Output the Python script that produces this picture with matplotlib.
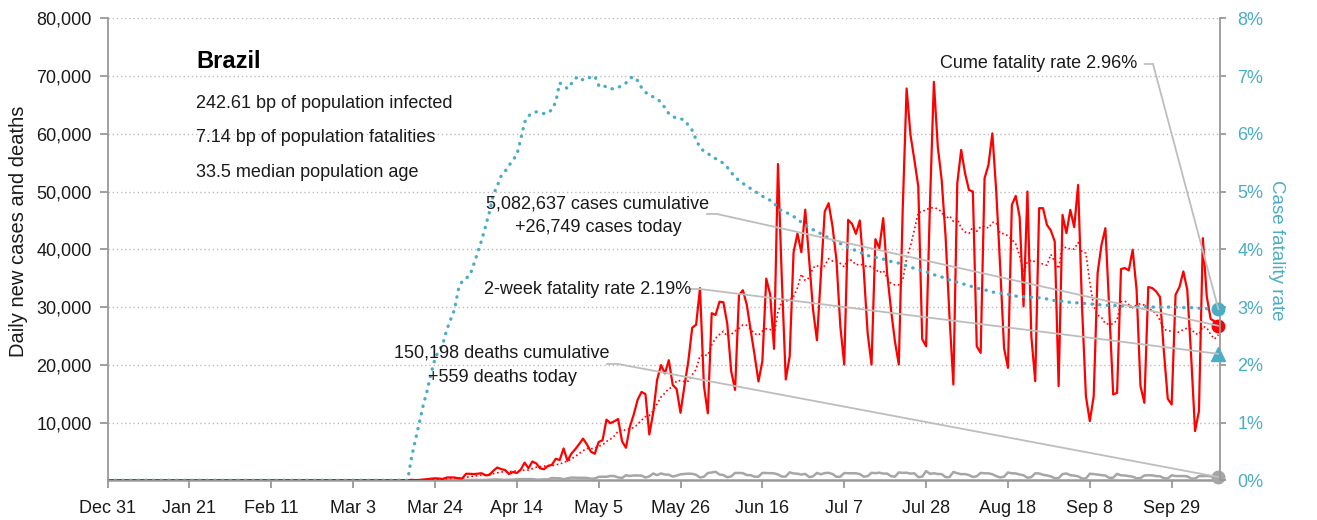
import matplotlib
matplotlib.use("Agg")
import matplotlib.pyplot as plt
import matplotlib.dates as mdates
from matplotlib import font_manager
from matplotlib.patches import ConnectionPatch
from matplotlib.lines import Line2D
import pandas as pd

# ---------------- data ----------------
START = "2019-12-31"

# daily new cases, one value per day from Dec 31
new_cases = [
    0, 0, 0, 0, 0, 0, 0, 0, 0, 0, 0, 0, 0, 0, 0, 0, 0, 0, 0, 0,
    0, 0, 0, 0, 0, 0, 0, 0, 0, 0, 0, 0, 0, 0, 0, 0, 0, 0, 0, 0,
    0, 0, 0, 0, 0, 0, 0, 0, 0, 0, 0, 0, 0, 0, 0, 0, 0, 0,
    1, 0, 0, 1, 0, 0, 0,
    1, 5, 5, 6, 0, 6, 0,
    0, 9, 18, 25, 21, 23, 79,
    34, 57, 137, 193, 283, 345, 310,
    232, 482, 502, 487, 352, 323, 1138,
    1119, 1074, 1146, 1222, 852, 926, 1661,
    2210, 1930, 1781, 1089, 1442, 1261, 1832,
    3058, 2105, 3257, 2917, 2055, 1927, 2498,
    2678, 3735, 3503, 5514, 3379, 4613, 5385,
    6276, 7218, 6209, 4970, 4588, 6633, 6935,
    10503, 9888, 10222, 10611, 6760, 5632, 9258,
    11385, 13944, 15305, 14919, 7938, 11700, 17408,
    19951, 18508, 20803, 16508, 15813, 11687, 16324,
    20599, 26417, 26928, 33274, 16409, 11598, 28936,
    28633, 30925, 30830, 27075, 18912, 15654, 32091,
    32913, 30412, 25982, 21704, 17110, 20647, 34918,
    32188, 22765, 54771, 34666, 17459, 21432, 39436,
    42725, 39483, 46860, 38190, 29550, 24250, 35310,
    46540, 47980, 43950, 38190, 26670, 20040, 45100,
    44410, 42680, 44990, 36460, 25520, 20040, 41760,
    40200, 45390, 35880, 29550, 24080, 20040, 46830,
    67850, 59790, 55470, 50860, 24480, 23210, 47980,
    69000, 57770, 52010, 42220, 28400, 16590, 51440,
    57200, 53160, 50280, 50000, 23210, 22060, 52300,
    54600, 60080, 50000, 37040, 22920, 19470, 47690,
    49250, 45560, 30120, 50000, 24940, 17160, 47120,
    47120, 44240, 43260, 41360, 16300, 45960, 42800,
    46830, 43830, 51150, 30120, 14570, 10250, 14570,
    35880, 40780, 43660, 29550, 14860, 15150, 36580,
    36750, 36350, 39920, 33000, 16300, 13420, 33470,
    33290, 32720, 31740, 22350, 14110, 13130, 32140,
    33470, 36170, 33000, 21480, 8525, 11980, 41930,
    31850, 27940, 27530, 26749,
]

# daily new deaths, one value per day from Dec 31
new_deaths = [
    0, 0, 0, 0, 0, 0, 0, 0, 0, 0, 0, 0, 0, 0, 0, 0, 0, 0, 0, 0,
    0, 0, 0, 0, 0, 0, 0, 0, 0, 0, 0, 0, 0, 0, 0, 0, 0, 0, 0, 0,
    0, 0, 0, 0, 0, 0, 0, 0, 0, 0, 0, 0, 0, 0, 0, 0, 0, 0, 0, 0,
    0, 0, 0, 0, 0, 0, 0, 0, 0, 0, 0, 0, 0, 0, 0, 0, 0, 0,
    1, 2, 3, 5, 7, 9, 12,
    11, 12, 13, 20, 22, 23, 42,
    40, 58, 60, 73, 54, 67, 114,
    133, 141, 115, 68, 99, 105, 204,
    204, 188, 217, 206, 115, 113, 166,
    165, 407, 357, 346, 189, 338, 474,
    449, 435, 428, 421, 275, 296, 600,
    615, 610, 751, 730, 496, 396, 881,
    749, 844, 824, 816, 485, 674, 1179,
    888, 1188, 1001, 965, 653, 807, 1039,
    1086, 1156, 1124, 956, 480, 623, 1262,
    1349, 1473, 1005, 904, 525, 679, 1272,
    1274, 1239, 909, 892, 612, 627, 1282,
    1269, 1238, 1206, 1022, 641, 654, 1374,
    1185, 1141, 990, 1109, 552, 692, 1280,
    1038, 1252, 1290, 1091, 602, 620, 1254,
    1223, 1220, 1214, 1071, 631, 716, 1300,
    1233, 1322, 1163, 1163, 716, 632, 1367,
    1284, 1311, 1156, 1211, 555, 632, 1595,
    1129, 1212, 1088, 1079, 541, 561, 1437,
    1226, 1060, 1079, 905, 572, 703, 1274,
    1212, 1204, 1060, 709, 494, 620, 1352,
    1215, 1189, 1004, 874, 441, 553, 1215,
    1184, 955, 834, 682, 366, 386, 1075,
    1184, 888, 814, 682, 315, 310, 1136,
    1075, 983, 874, 815, 415, 455, 1113,
    869, 831, 739, 629, 335, 381, 836,
    869, 858, 729, 708, 363, 317, 863,
    733, 732, 728, 690, 307, 309, 734,
    729, 754, 703, 620, 559,
]

# cumulative case fatality rate (%), one value per day from Dec 31
cfr_pct = [
    0, 0, 0, 0, 0, 0, 0, 0, 0, 0, 0, 0, 0, 0, 0, 0, 0, 0, 0, 0,
    0, 0, 0, 0, 0, 0, 0, 0, 0, 0, 0, 0, 0, 0, 0, 0, 0, 0, 0, 0,
    0, 0, 0, 0, 0, 0, 0, 0, 0, 0, 0, 0, 0, 0, 0, 0, 0, 0, 0, 0,
    0, 0, 0, 0, 0, 0, 0, 0, 0, 0, 0, 0, 0, 0, 0, 0, 0, 0,
    0.40, 0.70, 1.00, 1.30, 1.55, 1.85, 2.10,
    2.25, 2.35, 2.60, 2.78, 2.95, 3.30, 3.45,
    3.50, 3.55, 3.75, 3.95, 4.16, 4.40, 4.65,
    4.95, 5.10, 5.27, 5.35, 5.45, 5.55, 5.63,
    5.90, 6.20, 6.31, 6.36, 6.38, 6.36, 6.35,
    6.36, 6.42, 6.55, 6.88, 6.84, 6.78, 6.87,
    6.96, 6.99, 6.93, 6.96, 6.98, 7.00, 6.84,
    6.86, 6.80, 6.78, 6.78, 6.80, 6.84, 6.88,
    6.96, 6.99, 6.92, 6.80, 6.72, 6.67, 6.64,
    6.60, 6.55, 6.45, 6.35, 6.30, 6.27, 6.26,
    6.24, 6.15, 6.06, 5.90, 5.76, 5.70, 5.66,
    5.61, 5.57, 5.53, 5.49, 5.42, 5.33, 5.25,
    5.19, 5.14, 5.10, 5.05, 5.01, 4.96, 4.92,
    4.88, 4.85, 4.81, 4.70, 4.67, 4.64, 4.61,
    4.57, 4.52, 4.47, 4.42, 4.38, 4.34, 4.31,
    4.27, 4.23, 4.20, 4.16, 4.13, 4.10, 4.07,
    4.03, 4.00, 3.98, 3.95, 3.92, 3.89, 3.88,
    3.86, 3.85, 3.83, 3.81, 3.79, 3.78, 3.76,
    3.74, 3.71, 3.69, 3.67, 3.65, 3.63, 3.61,
    3.59, 3.56, 3.54, 3.52, 3.50, 3.47, 3.45,
    3.43, 3.41, 3.39, 3.37, 3.35, 3.33, 3.31,
    3.30, 3.28, 3.26, 3.25, 3.24, 3.23, 3.22,
    3.21, 3.19, 3.18, 3.18, 3.17, 3.17, 3.16,
    3.16, 3.15, 3.14, 3.13, 3.11, 3.10, 3.10,
    3.09, 3.08, 3.08, 3.07, 3.07, 3.06, 3.05,
    3.05, 3.04, 3.04, 3.03, 3.03, 3.03, 3.02,
    3.02, 3.02, 3.01, 3.01, 3.01, 3.01, 3.01,
    3.00, 3.00, 3.00, 3.00, 3.00, 3.00, 3.00,
    3.00, 3.00, 2.99, 2.99, 2.99, 2.98, 2.98,
    2.98, 2.97, 2.97, 2.97, 2.96,
]

tick_labels = ["Dec 31", "Jan 21", "Feb 11", "Mar 3", "Mar 24", "Apr 14", "May 5",
               "May 26", "Jun 16", "Jul 7", "Jul 28", "Aug 18", "Sep 8", "Sep 29"]
left_ticks = [10000, 20000, 30000, 40000, 50000, 60000, 70000, 80000]
right_ticks = [0, 1, 2, 3, 4, 5, 6, 7, 8]

country = "Brazil"
info_lines = ["242.61 bp of population infected",
              "7.14 bp of population fatalities",
              "33.5 median population age"]
cases_cumulative = 5082637
deaths_cumulative = 150198
two_week_cfr = 2.19

assert len(new_cases) == len(new_deaths) == len(cfr_pct), (len(new_cases), len(new_deaths), len(cfr_pct))

# ---------------- style ----------------
RED = "#FF0000"
BLUE = "#4BACC6"
GRAY = "#A6A6A6"
SPINE = "#999999"
LEADER = "#BDBDBD"
TXT = "#1A1A1A"

installed = {f.name for f in font_manager.fontManager.ttflist}
if "Liberation Sans Narrow" in installed:
    base_font = "Liberation Sans Narrow"
    FS, FS_TITLE, FS_LBL, FS_RLBL = 15, 20, 16, 15
else:
    base_font = "Liberation Sans"
    FS, FS_TITLE, FS_LBL, FS_RLBL = 13, 17, 14.5, 13.5
plt.rcParams["font.family"] = [base_font, "DejaVu Sans"]

W, H = 1317, 520
L, R, B, T = 107.5, 1220.0, 480.3, 18.3


def fig_xy(px, py):
    return (px / W, 1 - py / H)


dates = pd.date_range(START, periods=len(new_cases), freq="D")
x = mdates.date2num(dates.to_pydatetime())
avg7 = pd.Series(new_cases).rolling(7, min_periods=1).mean()

fig = plt.figure(figsize=(W / 100, H / 100), dpi=100)
ax = fig.add_axes([L / W, 1 - B / H, (R - L) / W, (B - T) / H])
ax2 = ax.twinx()

# ---- left axis series ----
ax.plot(x, new_deaths, color=GRAY, lw=1.8, zorder=3, solid_joinstyle="round")
ax.plot(x, new_cases, color=RED, lw=1.6, zorder=4, solid_joinstyle="round")
ax.plot(x, avg7, color=RED, lw=1.2, linestyle=(0, (1, 1.6)), zorder=4)

# ---- right axis series ----
ax2.plot(x, cfr_pct, color=BLUE, lw=2.4, linestyle=(0, (0.1, 2.2)),
         dash_capstyle="round", zorder=3)

# ---- end markers ----
ax.plot([x[-1]], [new_cases[-1]], "o", color=RED, ms=9, clip_on=False, zorder=6)
ax.plot([x[-1]], [new_deaths[-1]], "o", color=GRAY, ms=9, clip_on=False, zorder=6)
ax2.plot([x[-1]], [cfr_pct[-1]], "o", color=BLUE, ms=9, clip_on=False, zorder=6)
ax2.plot([x[-1]], [two_week_cfr], "^", color=BLUE, ms=10, clip_on=False, zorder=6)

# ---- axes ----
ax.set_xlim(x[0], x[-1] + 0.4)
ax.set_ylim(0, 80000)
ax2.set_ylim(0, 8)

ax.set_xticks(x[::21][:len(tick_labels)])
ax.set_xticklabels(tick_labels)
ax.set_yticks(left_ticks)
ax.set_yticklabels([f"{v:,}" for v in left_ticks])
ax2.set_yticks(right_ticks)
ax2.set_yticklabels([f"{v}%" for v in right_ticks])

ax.yaxis.grid(True, linestyle=(0, (1, 2)), color="#BBBBBB", lw=1.0)
ax.set_axisbelow(True)

for a in (ax, ax2):
    a.spines["top"].set_visible(False)
ax.spines["right"].set_visible(False)
ax2.spines["left"].set_visible(False)
ax2.spines["bottom"].set_visible(False)
ax.spines["left"].set_color(SPINE)
ax.spines["left"].set_linewidth(1.3)
ax.spines["bottom"].set_color(SPINE)
ax.spines["bottom"].set_linewidth(1.8)
ax2.spines["right"].set_color(SPINE)
ax2.spines["right"].set_linewidth(1.3)

ax.tick_params(axis="y", direction="out", length=5.5, width=1.3, color=SPINE,
               pad=6, labelsize=FS, labelcolor=TXT)
ax.tick_params(axis="x", direction="out", length=6, width=1.3, color=SPINE,
               pad=8, labelsize=FS, labelcolor=TXT)
ax2.tick_params(axis="y", direction="out", length=4.5, width=1.3, color=SPINE,
                pad=8, labelsize=FS, labelcolor=BLUE)

ax.set_ylabel("Daily new cases and deaths", fontsize=FS_LBL, color=TXT,
              va="center")
ax.yaxis.set_label_coords((19 - L) / (R - L), (B - 231) / (B - T))
ax2.set_ylabel("Case fatality rate", fontsize=FS_RLBL, color=BLUE, rotation=270,
               va="center")
ax2.yaxis.set_label_coords((1277 - L) / (R - L), (B - 250) / (B - T))

# ---- title block ----
fig.text(*fig_xy(196, 62), country, fontsize=FS_TITLE, fontweight="bold",
         color="#000000", ha="left", va="center")
for i, line in enumerate(info_lines):
    fig.text(*fig_xy(196, 103 + 35 * i), line, fontsize=FS, color=TXT,
             ha="left", va="center")

# ---- annotations with leader lines ----
def leader(px0, px1, py, xb, yb, axis):
    fig.add_artist(Line2D([px0 / W, px1 / W], [1 - py / H, 1 - py / H],
                          color=LEADER, lw=1.3))
    cp = ConnectionPatch(xyA=fig_xy(px1, py), coordsA=fig.transFigure,
                         xyB=(xb, yb), coordsB=axis.transData,
                         color=LEADER, lw=1.3, zorder=2)
    fig.add_artist(cp)


fig.text(*fig_xy(1137, 64), f"Cume fatality rate {cfr_pct[-1]:.2f}%",
         fontsize=FS, color=TXT, ha="right", va="center")
leader(1145, 1153, 64, x[-1], cfr_pct[-1], ax2)

fig.text(*fig_xy(598, 204), f"{cases_cumulative:,} cases cumulative",
         fontsize=FS, color=TXT, ha="center", va="center")
fig.text(*fig_xy(598, 228), f"+{new_cases[-1]:,} cases today",
         fontsize=FS, color=TXT, ha="center", va="center")
leader(707, 717, 214, x[-1], new_cases[-1], ax)

fig.text(*fig_xy(588, 290), f"2-week fatality rate {two_week_cfr:.2f}%",
         fontsize=FS, color=TXT, ha="center", va="center")
leader(689, 700, 289, x[-1], two_week_cfr, ax2)

fig.text(*fig_xy(502, 353), f"{deaths_cumulative:,} deaths cumulative",
         fontsize=FS, color=TXT, ha="center", va="center")
fig.text(*fig_xy(502, 378), f"+{new_deaths[-1]:,} deaths today",
         fontsize=FS, color=TXT, ha="center", va="center")
leader(607, 618, 364, x[-1], new_deaths[-1], ax)

fig.savefig("out.png", dpi=100)
